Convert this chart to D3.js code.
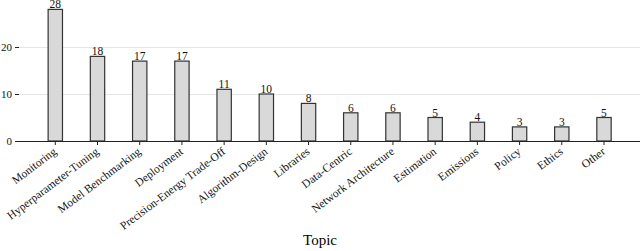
<!DOCTYPE html>
<html>
<head>
<style>
	body { margin: 0; background: white; }
	svg { font-family: "Liberation Serif", "DejaVu Serif", serif; }
	.grid line { stroke: #e6e6e6; stroke-width: 1px; }
	.bar { fill: #d9d9d9; stroke: #333; stroke-width: 1.2px; }
	.val { font-size: 11.5px; text-anchor: middle; fill: #111; }
	.axis text { fill: #111; }
</style>
<script src="https://d3js.org/d3.v7.min.js"></script>
</head>
<body>
<script>
	var topics = ["Monitoring", "Hyperparameter-Tuning", "Model Benchmarking", "Deployment",
		"Precision-Energy Trade-Off", "Algorithm-Design", "Libraries", "Data-Centric",
		"Network Architecture", "Estimation", "Emissions", "Policy", "Ethics", "Other"];
	var counts = [28, 18, 17, 17, 11, 10, 8, 6, 6, 5, 4, 3, 3, 5];
	var yTicks = [0, 10, 20];

	var width = 640, height = 251,
		left = 19, right = 640, base = 141;

	var svg = d3.select("body").append("svg")
		.attr("width", width)
		.attr("height", height);

	var x = d3.scaleBand()
		.domain(topics)
		.range([34.2, 625.1])
		.paddingInner(0.66)
		.paddingOuter(0.33);

	var y = d3.scaleLinear()
		.domain([0, 10])
		.range([base, base - 47]);

	// grid
	svg.append("g")
		.attr("class", "grid")
		.selectAll("line")
		.data(yTicks.slice(1))
		.enter().append("line")
		  .attr("x1", left).attr("x2", right)
		  .attr("y1", function(d){ return y(d) + 0.5; })
		  .attr("y2", function(d){ return y(d) + 0.5; });

	// bars
	svg.selectAll(".bar")
		.data(counts)
		.enter().append("rect")
		  .attr("class", "bar")
		  .attr("x", function(d, i){ return x(topics[i]); })
		  .attr("width", x.bandwidth())
		  .attr("y", function(d){ return y(d); })
		  .attr("height", function(d){ return base - y(d); });

	svg.selectAll(".val")
		.data(counts)
		.enter().append("text")
		  .attr("class", "val")
		  .attr("x", function(d, i){ return x(topics[i]) + x.bandwidth() / 2; })
		  .attr("y", function(d){ return y(d) - 1; })
		  .text(function(d){ return d; });

	// y axis
	var yAxis = d3.axisLeft(y).tickValues(yTicks).tickSize(4).tickPadding(3);
	var gy = svg.append("g")
		.attr("class", "axis")
		.attr("transform", "translate(" + left + ",0)")
		.call(yAxis)
		.attr("font-family", null)
		.attr("font-size", 11);
	gy.select(".domain").remove();
	gy.selectAll(".tick line").attr("stroke", "#222");

	// x axis
	var xAxis = d3.axisBottom(x).tickSize(4).tickSizeOuter(0).tickPadding(3);
	var gx = svg.append("g")
		.attr("class", "axis")
		.attr("transform", "translate(0," + base + ")")
		.call(xAxis)
		.attr("font-family", null)
		.attr("font-size", 11.5);
	gx.select(".domain").attr("d", "M" + left + ",0.5H" + right).attr("stroke", "#222");
	gx.selectAll(".tick line").attr("stroke", "#222");
	gx.selectAll(".tick text")
		.attr("text-anchor", "end")
		.attr("dy", null)
		.attr("y", 0)
		.attr("transform", "translate(2,12) rotate(-37)");

	svg.append("text")
		.attr("x", 320)
		.attr("y", 245)
		.attr("text-anchor", "middle")
		.style("font-size", "15px")
		.text("Topic");
</script>
</body>
</html>
